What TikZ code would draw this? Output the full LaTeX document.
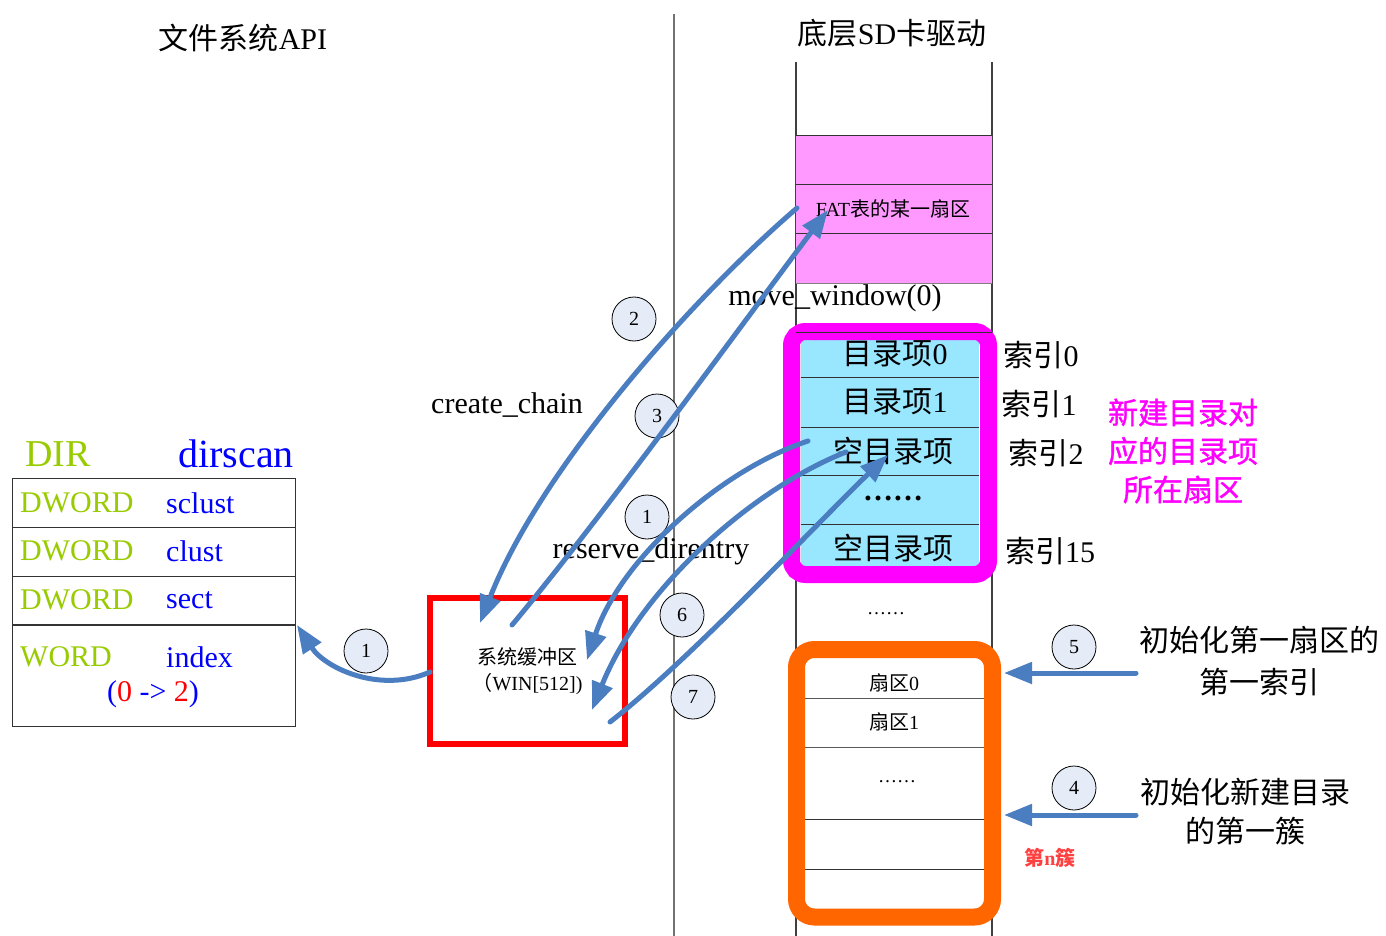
\documentclass[tikz,border=0pt]{standalone}
\usepackage{fontspec}
\setmainfont{Liberation Serif}
\newfontfamily\cjk{Noto Sans CJK SC}
\newfontfamily\cjkmed[FakeBold=1.2]{Noto Sans CJK SC}
\usetikzlibrary{arrows.meta}
\definecolor{pinkfill}{RGB}{255,153,255}
\definecolor{cyanfill}{RGB}{153,230,255}
\definecolor{magentab}{RGB}{255,0,255}
\definecolor{orangeb}{RGB}{255,102,0}
\definecolor{arrowblue}{RGB}{74,126,193}
\definecolor{circfill}{RGB}{230,236,247}
\definecolor{dirgreen}{RGB}{153,204,0}
\definecolor{redtext}{RGB}{255,64,64}
\definecolor{dirblue}{RGB}{0,0,255}
\newcommand{\fs}[1]{\fontsize{#1}{#1}\selectfont}
\newcommand{\zh}[1]{{\cjk #1}}
\begin{document}
\begin{tikzpicture}[x=1pt,y=-1pt,
  vline/.style={draw=black!55, line width=1.2},
  tline/.style={draw=black!80, line width=1},
  blueline/.style={draw=arrowblue, line width=5, line cap=round},
  bluearrow/.style={blueline, -{Triangle[length=28pt,width=21pt]}},
  num/.style={circle, draw=black, line width=0.8, fill=circfill, minimum size=44, inner sep=0, font=\fs{20}},
  lbl/.style={inner sep=0, font=\fs{30}},
  zlbl/.style={inner sep=0, font=\cjk\fs{30}},
  small/.style={inner sep=0, font=\fs{20}},
  green/.style={inner sep=0, anchor=west, font=\fs{30}, text=dirgreen},
  blue/.style={inner sep=0, anchor=west, font=\fs{30}, text=dirblue}]
\useasboundingbox (0,0) rectangle (1386,936);
\fill[white] (0,0) rectangle (1386,936);

% titles and vertical lines
\node[lbl] (t1) at (243,38) {\zh{文件系统}API};
\node[lbl] (t2) at (892,33) {\zh{底层}SD\zh{卡驱动}};
\draw[vline] (674,14) -- (674,936);
\draw[vline, draw=black!75] (796,62) -- (796,936);
\draw[vline, draw=black!75] (992,62) -- (992,936);

% FAT sectors
\fill[pinkfill] (796,136) rectangle (992,283);
\draw[tline] (796,136) -- (992,136);
\draw[tline] (796,185) -- (992,185);
\draw[tline] (796,233) -- (992,233);
\draw[tline, draw=black!50] (796,283) -- (992,283);
\node[small] (fat) at (893,209) {FAT\zh{表的某一扇区}};
\node[lbl] (mw) at (835,298) {move\_window(0)};

% directory sector
\fill[cyanfill] (801,340) rectangle (979,567);
\draw[tline] (801,377) -- (979,377);
\draw[tline] (801,427) -- (979,427);
\draw[tline] (801,475) -- (979,475);
\draw[tline] (801,524) -- (979,524);
\draw[magentab, line width=17, rounded corners=14] (791.5,331.5) rectangle (988.5,574.5);
\draw[tline] (796,332) -- (992,332);
\node[lbl] (e0) at (895,354) {\zh{目录项}0};
\node[lbl] (e1) at (895,402) {\zh{目录项}1};
\node[zlbl] (e2) at (893,451) {空目录项};
\node[lbl] (edots) at (893,498) {\textbf{……}};
\node[zlbl] (e15) at (893,548) {空目录项};
\node[lbl] (i0) at (1041,355) {\zh{索引}0};
\node[lbl] (i1) at (1039,404) {\zh{索引}1};
\node[lbl] (i2) at (1046,453) {\zh{索引}2};
\node[lbl] (i15) at (1050,551) {\zh{索引}15};
\node[inner sep=0, font=\cjkmed\fontsize{30}{38.5}\selectfont, text=magentab, align=center] (newd) at (1183,451) {新建目录对\\应的目录项\\所在扇区};
\node[inner sep=0, font=\fs{19}] (gap) at (886,614) {……};

% cluster
\fill[white] (805,658) rectangle (984,909);
\draw[tline, draw=black!65] (805,698) -- (984,698);
\draw[tline, draw=black!65] (805,747) -- (984,747);
\draw[tline] (805,819) -- (984,819);
\draw[tline] (805,869) -- (984,869);
\draw[orangeb, line width=17, rounded corners=18] (796.5,649.5) rectangle (992.5,917);
\node[small] (s0) at (894,683) {\zh{扇区}0};
\node[small] (s1) at (894,722) {\zh{扇区}1};
\node[inner sep=0, font=\fs{19}] (sdots) at (897,782) {……};
\node[inner sep=0, font=\cjk\bfseries\fs{20}, text=redtext] (nclu) at (1050,858) {第{\rmfamily\bfseries n}簇};

% right side notes
\node[inner sep=0, font=\cjk\fontsize{30}{42}\selectfont, align=center] (n5) at (1259,661) {初始化第一扇区的\\第一索引};
\node[inner sep=0, font=\cjk\fontsize{30}{39}\selectfont, align=center] (n4) at (1245,811.5) {初始化新建目录\\的第一簇};
\coordinate (a5s) at (1136,673);
\coordinate (a5e) at (1004,673);
\coordinate (a4s) at (1136,815);
\coordinate (a4e) at (1004,815);
\draw[bluearrow] (a5s) -- (a5e);
\draw[bluearrow] (a4s) -- (a4e);
\node[num] (c5) at (1074,647) {5};
\node[num] (c4) at (1074,788) {4};

% DIR structure
\node[inner sep=0, font=\fs{38}, text=dirgreen] (dirl) at (58,454) {DIR};
\node[inner sep=0, font=\fs{40}, text=dirblue] (dirs) at (236,454) {dirscan};
\draw[tline] (12,478) rectangle (295,726);
\draw[tline] (12,527) -- (295,527);
\draw[tline] (12,576) -- (295,576);
\draw[tline, line width=1.4] (12,625) -- (295,625);
\node[green] (d1) at (20,503) {DWORD};
\node[blue] (f1) at (166,503) {sclust};
\node[green] (d2) at (20,551) {DWORD};
\node[blue] (f2) at (166,551) {clust};
\node[green] (d3) at (20,600) {DWORD};
\node[blue] (f3) at (166,600) {sect};
\node[green] (d4) at (20,657) {WORD};
\node[blue] (f4) at (166,657) {index};
\node[inner sep=0, font=\fs{30}, text=dirblue] (idx) at (153,694) {(\textcolor{red}{0} -> \textcolor{red}{2})};

% buffer
\node[draw=red, line width=6, minimum width=195, minimum height=146, inner sep=0, font=\fs{20}, align=center] (buf) at (527.5,671) {\zh{系统缓冲区}\\[6pt]\zh{（}WIN[512])};

% labels
\node[lbl] (cc) at (507,405) {create\_chain};
\node[lbl] (rd) at (651,551) {reserve\_direntry};

% circles
\node[num] (c1a) at (366,651) {1};
\node[num] (c2) at (634,319) {2};
\node[num] (c3) at (657,416) {3};
\node[num] (c1b) at (647,517) {1};
\node[num] (c6) at (682,615) {6};
\node[num] (c7) at (693,697) {7};

% connector end points
\coordinate (p1s) at (430,672);
\coordinate (p1e) at (297,625);
\coordinate (p2s) at (797,208);
\coordinate (p2e) at (480,623);
\coordinate (p3s) at (512,625);
\coordinate (p3e) at (828,210);
\coordinate (p4s) at (808,441);
\coordinate (p4e) at (587,660);
\coordinate (p6s) at (846,452);
\coordinate (p6e) at (592,710);
\coordinate (p7s) at (610,722);
\coordinate (p7e) at (888,455);

\draw[bluearrow] (p1s) .. controls (380,694) and (325,668) .. (p1e);
\draw[bluearrow] (p2s) .. controls (690,300) and (540,470) .. (p2e);
\draw[bluearrow] (p3s) .. controls (600,520) and (760,300) .. (p3e);
\draw[bluearrow] (p4s) .. controls (720,470) and (620,560) .. (p4e);
\draw[bluearrow] (p6s) .. controls (750,490) and (640,590) .. (p6e);
\draw[bluearrow] (p7s) .. controls (690,660) and (820,520) .. (p7e);
\end{tikzpicture}
\end{document}
